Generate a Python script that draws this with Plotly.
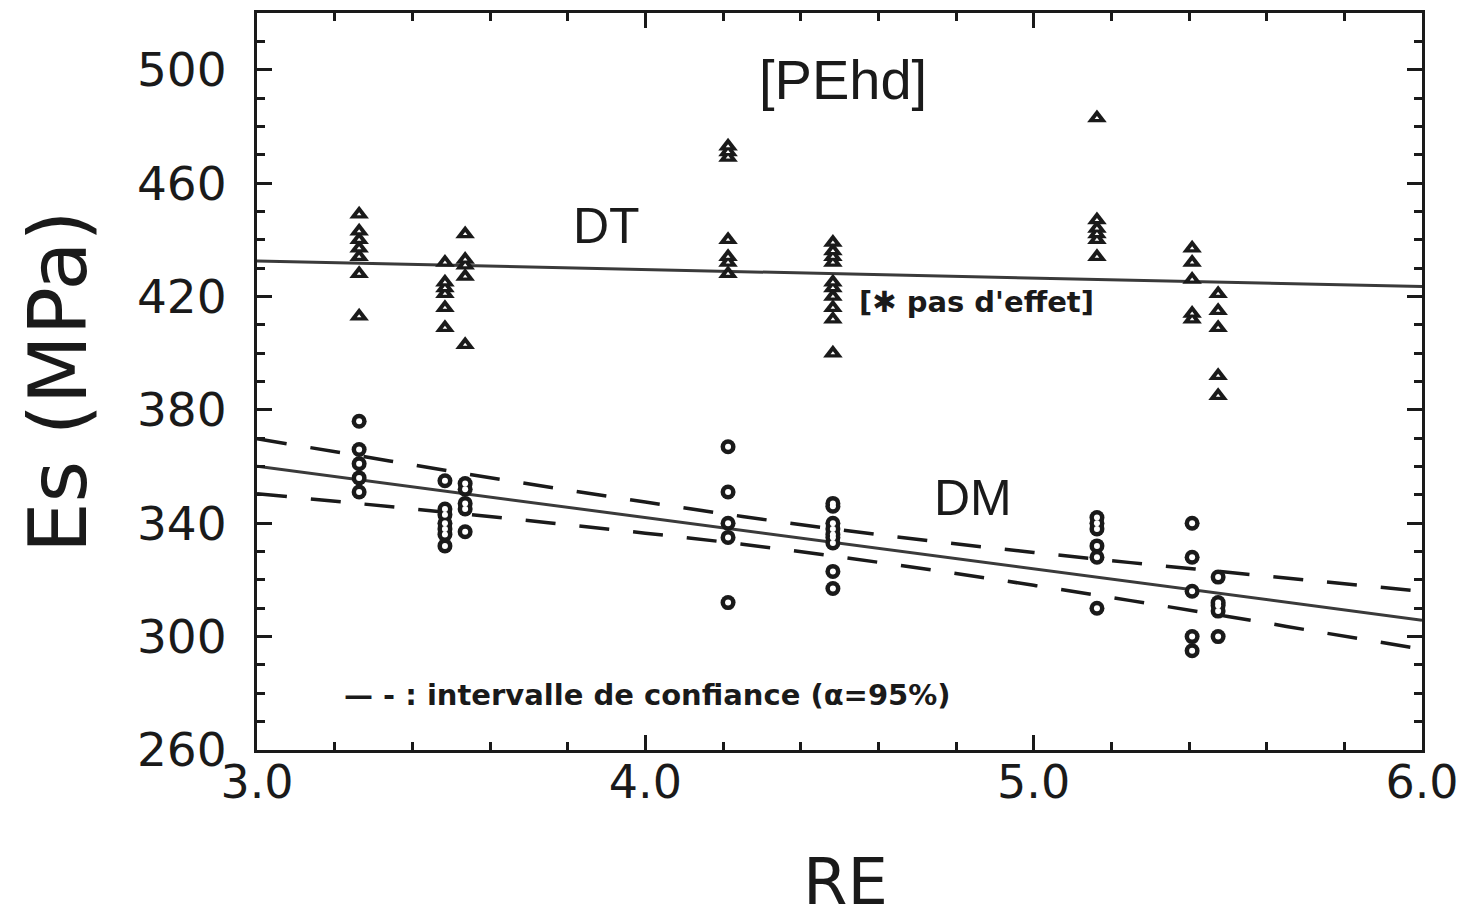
import plotly.graph_objects as go

# ---- data ----
re_groups = [3.263, 3.484, 3.536, 4.213, 4.483, 5.163, 5.408, 5.475]

dt_values = [
    [449, 443, 440, 437, 434, 428, 413],
    [432, 425, 423, 421, 416, 409],
    [442, 433, 431, 427, 403],
    [473, 471, 469, 440, 434, 432, 428],
    [439, 436, 434, 432, 425, 423, 420, 416, 412, 400],
    [483, 447, 444, 442, 440, 434],
    [437, 432, 426, 414, 412],
    [421, 415, 409, 392, 385],
]

dm_values = [
    [376, 366, 361, 356, 351],
    [355, 345, 343, 340, 338, 336, 332],
    [354, 352, 347, 345, 337],
    [367, 351, 340, 335, 312],
    [347, 346, 340, 338, 336, 335, 333, 323, 317],
    [342, 340, 338, 332, 328, 310],
    [340, 328, 316, 300, 295],
    [321, 312, 311, 309, 300],
]

fit_x = [3.0, 6.0]
dt_fit = [432.5, 423.5]
dm_fit = [360.1, 305.8]

ci_x = [3.0, 3.25, 3.5, 3.75, 4.0, 4.25, 4.5, 4.75, 5.0, 5.25, 5.5, 5.75, 6.0]
ci_upper = [369.8, 364.1, 358.3, 352.8, 347.5, 342.4, 337.7, 333.5, 329.7, 326.1, 322.7, 319.3, 316.0]
ci_lower = [350.4, 347.1, 343.7, 340.2, 336.5, 332.6, 328.1, 323.3, 318.1, 312.7, 307.1, 301.3, 295.6]

x_ticks = [3.0, 4.0, 5.0, 6.0]
x_ticklabels = ["3.0", "4.0", "5.0", "6.0"]
y_ticks = [260, 300, 340, 380, 420, 460, 500]

FONT = "Liberation Sans"
WIDE = "DejaVu Sans"
INK = "#1a1a1a"

def flatten(groups, vals):
    xs, ys = [], []
    for g, vs in zip(groups, vals):
        for v in vs:
            xs.append(g)
            ys.append(v)
    return xs, ys

dt_x, dt_y = flatten(re_groups, dt_values)
dm_x, dm_y = flatten(re_groups, dm_values)

fig = go.Figure()

# fitted lines
fig.add_trace(go.Scatter(x=fit_x, y=dt_fit, mode="lines",
                         line=dict(color="#3a3a3a", width=3), showlegend=False))
fig.add_trace(go.Scatter(x=fit_x, y=dm_fit, mode="lines",
                         line=dict(color="#3a3a3a", width=3), showlegend=False))
# confidence band
for band in (ci_upper, ci_lower):
    fig.add_trace(go.Scatter(x=ci_x, y=band, mode="lines", line_shape="spline",
                             line=dict(color=INK, width=3.5, dash="30px,24px"),
                             showlegend=False))

# points: thick hollow markers (dark marker with a small white centre)
fig.add_trace(go.Scatter(x=dt_x, y=dt_y, mode="markers",
                         marker=dict(symbol="triangle-up", size=17, color=INK,
                                     line=dict(width=0)),
                         showlegend=False))
fig.add_trace(go.Scatter(x=dt_x, y=dt_y, mode="markers",
                         marker=dict(symbol="triangle-up", size=4, color="white",
                                     line=dict(width=0)),
                         showlegend=False, hoverinfo="skip"))
fig.add_trace(go.Scatter(x=dm_x, y=dm_y, mode="markers",
                         marker=dict(symbol="circle", size=15, color=INK,
                                     line=dict(width=0)),
                         showlegend=False))
fig.add_trace(go.Scatter(x=dm_x, y=dm_y, mode="markers",
                         marker=dict(symbol="circle", size=6, color="white",
                                     line=dict(width=0)),
                         showlegend=False, hoverinfo="skip"))

annotations = [
    dict(x=4.509, y=496.5, text="[PEhd]", font=dict(size=56, family=FONT, color=INK)),
    dict(x=3.899, y=445, text="DT", font=dict(size=50, family=FONT, color=INK)),
    dict(x=4.844, y=349, text="DM", font=dict(size=50, family=FONT, color=INK)),
    dict(x=4.545, y=418, xanchor="left", text="<b>[✱ pas d'effet]</b>",
         font=dict(size=29, family=WIDE, color=INK)),
    dict(x=3.22, y=279.5, xanchor="left",
         text="<b>— - : intervalle de confiance (α=95%)</b>",
         font=dict(size=29, family=WIDE, color=INK)),
    dict(x=-0.212, y=0.50, xref="paper", yref="paper", text="Es (MPa)", textangle=-90,
         font=dict(size=80, family=WIDE, color=INK)),
    dict(x=0.505, y=-0.232, xref="paper", yref="paper", text="RE",
         font=dict(size=64, family=WIDE, color=INK)),
]
for a in annotations:
    a.setdefault("xref", "x")
    a.setdefault("yref", "y")
    a["showarrow"] = False

fig.update_layout(
    width=1466, height=921,
    margin=dict(l=257, r=44, t=13, b=171, autoexpand=False),
    paper_bgcolor="white", plot_bgcolor="white",
    annotations=annotations,
    xaxis=dict(range=[3.0, 6.0], tickvals=x_ticks, ticktext=x_ticklabels,
               showgrid=False, zeroline=False, automargin=False,
               showline=True, linecolor=INK, linewidth=3, mirror="allticks",
               ticks="inside", ticklen=15, tickwidth=3, tickcolor=INK,
               minor=dict(dtick=0.2, ticks="inside", ticklen=8, tickwidth=3,
                          tickcolor=INK, showgrid=False),
               tickfont=dict(size=46, family=WIDE, color=INK), ticklabelstandoff=-10),
    yaxis=dict(range=[260, 520], tickvals=y_ticks,
               showgrid=False, zeroline=False, automargin=False,
               showline=True, linecolor=INK, linewidth=3, mirror="allticks",
               ticks="inside", ticklen=15, tickwidth=3, tickcolor=INK,
               minor=dict(dtick=10, ticks="inside", ticklen=8, tickwidth=3,
                          tickcolor=INK, showgrid=False),
               tickfont=dict(size=47, family=WIDE, color=INK), ticklabelstandoff=18),
)

fig.write_html("out.html")
